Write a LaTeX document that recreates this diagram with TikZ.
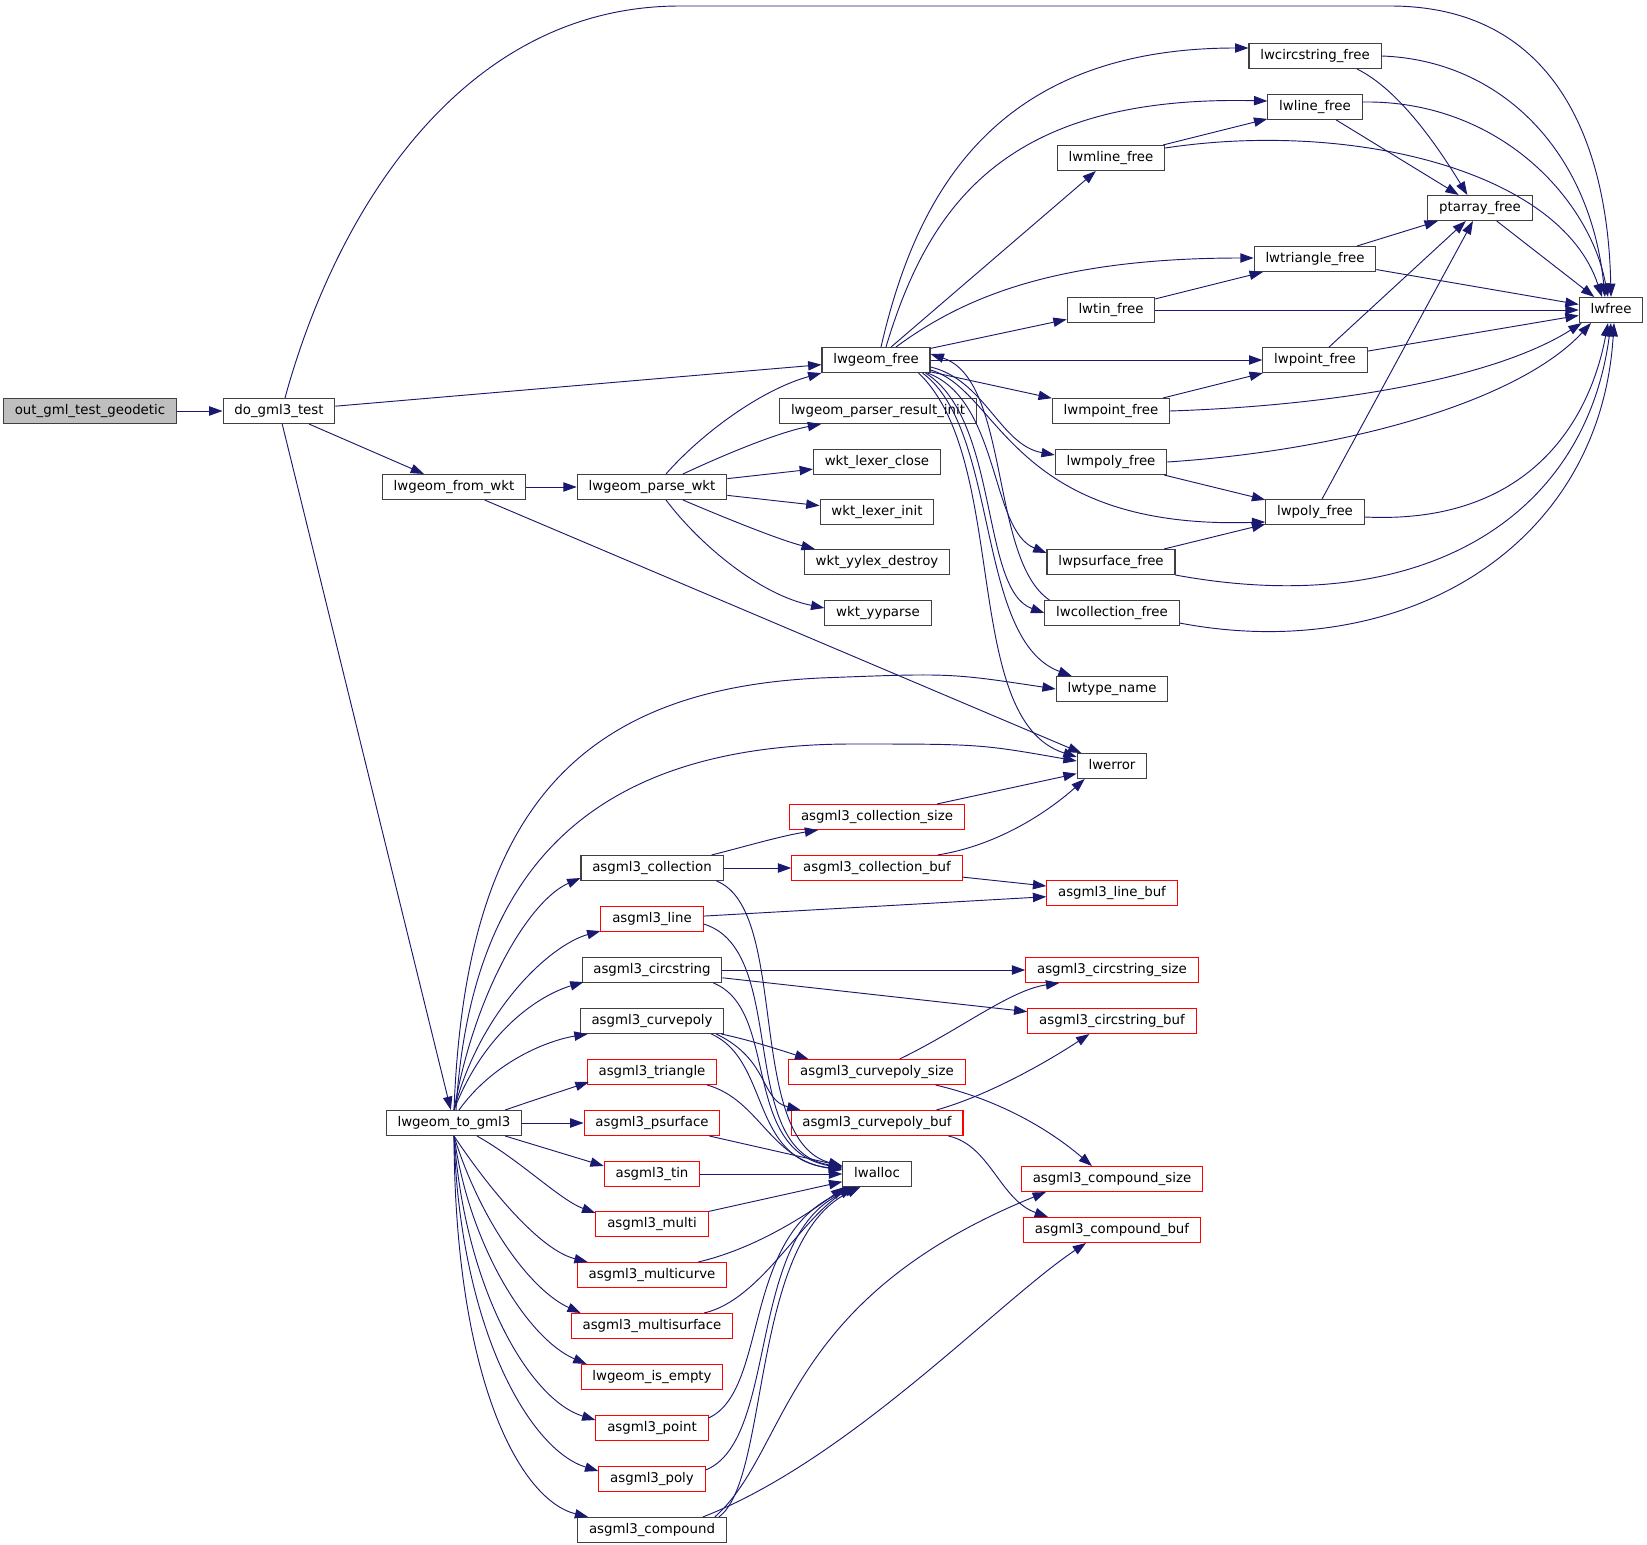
\documentclass[tikz,border=0pt]{standalone}
\usepackage{fontspec}
\setmainfont{DejaVu Sans}
\usetikzlibrary{arrows.meta,calc}
\definecolor{edgeblue}{HTML}{191970}
\definecolor{boxgray}{HTML}{BFBFBF}
\definecolor{boxline}{HTML}{404040}
\tikzset{
  fnode/.style = {shape=rectangle, draw=boxline, line width=0.8pt,
                  fill=white, inner xsep=8.5pt, inner ysep=0pt,
                  minimum height=18.75pt, text height=7.4pt, text depth=2.2pt,
                  font=\fontsize{10}{12}\selectfont},
  root/.style  = {fnode, fill=boxgray},
  undoc/.style = {fnode, draw=red},
  call/.style  = {draw=edgeblue, line width=0.7pt,
                  -{Triangle[length=10pt,width=7pt]}}
}
\begin{document}
\begin{tikzpicture}
  [
    x = 0.75pt,
    y = -0.75pt
  ]
  \useasboundingbox (0,0) rectangle (1647,1545);

  % callers
  \node [root] (og) at (90,411) {out\_gml\_test\_geodetic};
  \node [fnode] (dt) at (279,411) {do\_gml3\_test};
  \node [fnode] (fw) at (454,487) {lwgeom\_from\_wkt};
  \node [fnode] (tg) at (454,1123) {lwgeom\_to\_gml3};
  \node [fnode] (pw) at (652,487) {lwgeom\_parse\_wkt};

  % parser and free column
  \node [fnode] (gf) at (876,360) {lwgeom\_free};
  \node [fnode] (pri) at (878,411) {lwgeom\_parser\_result\_init};
  \node [fnode] (lc) at (877,462) {wkt\_lexer\_close};
  \node [fnode] (li) at (877,512) {wkt\_lexer\_init};
  \node [fnode] (yd) at (877,562) {wkt\_yylex\_destroy};
  \node [fnode] (yp) at (878,613) {wkt\_yyparse};

  % gml3 writers
  \node [fnode] (ac) at (652,868) {asgml3\_collection};
  \node [undoc] (al) at (652,919) {asgml3\_line};
  \node [fnode] (acst) at (652,970) {asgml3\_circstring};
  \node [fnode] (acp) at (652,1021) {asgml3\_curvepoly};
  \node [undoc] (atr) at (652,1072) {asgml3\_triangle};
  \node [undoc] (aps) at (652,1123) {asgml3\_psurface};
  \node [undoc] (atin) at (652,1174) {asgml3\_tin};
  \node [undoc] (amu) at (652,1224) {asgml3\_multi};
  \node [undoc] (amc) at (652,1275) {asgml3\_multicurve};
  \node [undoc] (ams) at (652,1326) {asgml3\_multisurface};
  \node [undoc] (ie) at (652,1377) {lwgeom\_is\_empty};
  \node [undoc] (apt) at (652,1428) {asgml3\_point};
  \node [undoc] (apy) at (652,1479) {asgml3\_poly};
  \node [fnode] (acm) at (652,1530) {asgml3\_compound};

  \node [undoc] (acs) at (877,817) {asgml3\_collection\_size};
  \node [undoc] (acb) at (877,868) {asgml3\_collection\_buf};
  \node [undoc] (cvs) at (877,1072) {asgml3\_curvepoly\_size};
  \node [undoc] (cvb) at (877,1123) {asgml3\_curvepoly\_buf};
  \node [fnode] (la) at (877,1174) {lwalloc};

  % free helpers
  \node [fnode] (ml) at (1111,158) {lwmline\_free};
  \node [fnode] (ti) at (1111,310) {lwtin\_free};
  \node [fnode] (mp) at (1111,411) {lwmpoint\_free};
  \node [fnode] (mpy) at (1111,462) {lwmpoly\_free};
  \node [fnode] (ps) at (1111,562) {lwpsurface\_free};
  \node [fnode] (co) at (1112,613) {lwcollection\_free};
  \node [fnode] (tn) at (1112,689) {lwtype\_name};
  \node [fnode] (er) at (1112,766) {lwerror};
  \node [undoc] (lb) at (1112,893) {asgml3\_line\_buf};
  \node [undoc] (css) at (1112,970) {asgml3\_circstring\_size};
  \node [undoc] (csb) at (1112,1021) {asgml3\_circstring\_buf};
  \node [undoc] (cps) at (1112,1179) {asgml3\_compound\_size};
  \node [undoc] (cpb) at (1112,1230) {asgml3\_compound\_buf};

  \node [fnode] (cs) at (1315,56) {lwcircstring\_free};
  \node [fnode] (ln) at (1315,107) {lwline\_free};
  \node [fnode] (tr) at (1315,259) {lwtriangle\_free};
  \node [fnode] (pt) at (1315,360) {lwpoint\_free};
  \node [fnode] (py) at (1315,512) {lwpoly\_free};
  \node [fnode] (pa) at (1480,208) {ptarray\_free};
  \node [fnode] (fr) at (1611,310) {lwfree};

  % top level calls
  \draw [call] (og) -- (dt);
  \draw [call] ($(dt.north)+(6,0)$) .. controls (335,215) and (460,6) .. (680,6)
    -- (1390,6) .. controls (1560,6) and (1608,150) .. (fr.north);
  \draw [call] (dt) -- (gf);
  \draw [call] (dt) -- (fw);
  \draw [call] (dt) -- (tg);
  \draw [call] (fw) -- (pw);
  \draw [call] (fw) -- (er);

  % parser
  \draw [call] ($(pw.north)+(14,0)$) .. controls (700,435) and (760,390) .. (gf.south west);
  \draw [call] ($(pw.north)+(31,0)$) .. controls (730,452) and (780,432) .. ($(pri.south west)+(42,0)$);
  \draw [call] (pw) -- (lc);
  \draw [call] (pw) -- (li);
  \draw [call] ($(pw.south)+(31,0)$) .. controls (730,520) and (780,540) .. ($(yd.north west)+(11,0)$);
  \draw [call] ($(pw.south)+(14,0)$) .. controls (700,545) and (760,595) .. ($(yp.west)+(0,-5)$);

  % lwgeom_free
  \draw [call] ($(gf.north)+(5,0)$) .. controls (915,200) and (990,48) .. ($(cs.west)+(0,-8)$);
  \draw [call] ($(gf.north)+(10,0)$) .. controls (930,200) and (1010,95) .. ($(ln.west)+(0,-6)$);
  \draw [call] (gf) -- (ml);
  \draw [call] ($(gf.north)+(20,0)$) .. controls (960,300) and (1050,258) .. ($(tr.west)+(0,-1)$);
  \draw [call] (gf) -- (ti);
  \draw [call] (gf) -- (pt);
  \draw [call] (gf) -- (mp);
  \draw [call] ($(gf.east)+(0,7)$) .. controls (985,380) and (1000,445) .. ($(mpy.west)+(0,-7)$);
  \draw [call] ($(gf.east)+(0,10)$) .. controls (1000,390) and (1010,530) .. ($(py.west)+(0,10)$);
  \draw [call] ($(gf.south east)+(-3,0)$) .. controls (1000,400) and (990,530) .. ($(ps.west)+(0,-9)$);
  \draw [call] ($(gf.south east)+(-5,0)$) .. controls (1000,420) and (980,590) .. (co.west);
  \draw [call] ($(gf.south east)+(-8,0)$) .. controls (1000,430) and (975,640) .. ($(tn.north west)+(16,0)$);
  \draw [call] ($(gf.south east)+(-12,0)$) .. controls (1010,460) and (960,720) .. ($(er.north west)+(0,4)$);
  \draw [call] ($(co.north west)+(5,0)$) .. controls (990,560) and (1010,380) .. ($(gf.east)+(0,-6)$);

  % free helpers
  \draw [call] ($(cs.south)+(42,0)$) .. controls (1400,90) and (1440,150) .. ($(pa.north west)+(40,0)$);
  \draw [call] (cs.east) .. controls (1500,60) and (1590,150) .. ($(fr.north)+(-6,0)$);
  \draw [call] (ln) -- (pa);
  \draw [call] ($(ln.east)+(0,-5)$) .. controls (1500,100) and (1590,200) .. ($(fr.north)+(-3,0)$);
  \draw [call] (ml) -- (ln);
  \draw [call] ($(ml.east)+(0,-10)$) .. controls (1350,120) and (1560,170) .. ($(fr.north)+(-9,0)$);
  \draw [call] (tr) -- (pa);
  \draw [call] (tr) -- (fr);
  \draw [call] (ti) -- (tr);
  \draw [call] (ti) -- (fr);
  \draw [call] (pt) -- (pa);
  \draw [call] (pt) -- (fr);
  \draw [call] (mp) -- (pt);
  \draw [call] (mp.east) .. controls (1350,405) and (1500,375) .. ($(fr.south west)+(3,0)$);
  \draw [call] (mpy) -- (py);
  \draw [call] (mpy.east) .. controls (1350,450) and (1520,400) .. ($(fr.south)+(-20,0)$);
  \draw [call] (py) -- (pa);
  \draw [call] ($(py.east)+(0,5)$) .. controls (1530,525) and (1590,420) .. ($(fr.south)+(-3,0)$);
  \draw [call] (ps) -- (py);
  \draw [call] (ps.south east) .. controls (1420,620) and (1585,520) .. (fr.south);
  \draw [call] ($(co.south east)+(0,-3)$) .. controls (1400,665) and (1600,550) .. ($(fr.south)+(3,0)$);
  \draw [call] (pa) -- (fr);

  % lwgeom_to_gml3
  \draw [call] (tg.north) .. controls (465,820) and (570,690) .. (820,678)
    .. controls (950,673) .. (tn.west);
  \draw [call] ($(tg.north)+(2,0)$) .. controls (470,880) and (580,745) .. (850,744)
    .. controls (980,744) .. ($(er.west)+(0,-5)$);
  \draw [call] (tg.north) .. controls (475,990) and (530,900) .. ($(ac.south west)+(0,-3)$);
  \draw [call] (tg.north) .. controls (480,1010) and (550,945) .. ($(al.south west)+(0,-1)$);
  \draw [call] (tg.north) .. controls (485,1030) and (540,995) .. ($(acst.south west)+(2,-1)$);
  \draw [call] ($(tg.north)+(5,0)$) .. controls (495,1060) and (550,1040) .. ($(acp.south west)+(8,0)$);
  \draw [call] ($(tg.north east)+(-17,0)$) .. controls (540,1098) and (565,1090) .. ($(atr.south west)+(2,-3)$);
  \draw [call] (tg) -- (aps);
  \draw [call] ($(tg.south east)+(-17,0)$) -- ($(atin.north west)+(0,5)$);
  \draw [call] ($(tg.south)+(23,0)$) .. controls (520,1160) and (560,1200) .. ($(amu.north west)+(0,2)$);
  \draw [call] (tg.south) .. controls (490,1190) and (540,1250) .. ($(amc.north west)+(11,0)$);
  \draw [call] (tg.south) .. controls (480,1220) and (530,1290) .. ($(ams.north west)+(10,0)$);
  \draw [call] (tg.south) .. controls (470,1250) and (530,1340) .. ($(ie.north west)+(6,0)$);
  \draw [call] (tg.south) .. controls (465,1290) and (530,1400) .. ($(apt.west)+(0,-8)$);
  \draw [call] (tg.south) .. controls (460,1330) and (530,1450) .. ($(apy.west)+(0,-8)$);
  \draw [call] (tg.south) .. controls (455,1380) and (520,1500) .. ($(acm.north west)+(11,0)$);

  % gml3 writers
  \draw [call] ($(ac.north east)+(-12,0)$) .. controls (740,848) and (780,836) .. ($(acs.south west)+(29,0)$);
  \draw [call] (ac) -- (acb);
  \draw [call] (acs) -- (er);
  \draw [call] ($(acb.north east)+(-25,0)$) .. controls (1000,845) and (1050,810) .. ($(er.south west)+(8,0)$);
  \draw [call] (acb) -- (lb);
  \draw [call] (al) -- (lb);
  \draw [call] (acst) -- (css);
  \draw [call] (acst) -- (csb);
  \draw [call] ($(acp.south east)+(-3,0)$) .. controls (750,1040) and (780,1050) .. ($(cvs.north west)+(20,0)$);
  \draw [call] ($(acp.south east)+(-8,0)$) .. controls (770,1060) and (760,1100) .. ($(cvb.north west)+(10,0)$);
  \draw [call] ($(cvs.north east)+(-66,0)$) .. controls (960,1030) and (1010,990) .. ($(css.south west)+(34,0)$);
  \draw [call] ($(cvs.south east)+(-30,0)$) .. controls (1000,1100) and (1050,1130) .. ($(cps.north west)+(71,0)$);
  \draw [call] ($(cvb.north east)+(-27,0)$) .. controls (990,1095) and (1050,1060) .. ($(csb.south west)+(62,0)$);
  \draw [call] ($(cvb.south east)+(-15,0)$) .. controls (990,1145) and (1000,1200) .. ($(cpb.north west)+(25,0)$);

  % into lwalloc
  \draw [call] ($(ac.south east)+(-7,0)$) .. controls (790,910) and (745,1140) .. ($(la.west)+(0,-8)$);
  \draw [call] ($(al.east)+(0,5)$) .. controls (790,950) and (735,1150) .. ($(la.west)+(0,-7)$);
  \draw [call] ($(acst.south east)+(-9,0)$) .. controls (780,1010) and (740,1150) .. ($(la.west)+(0,-6)$);
  \draw [call] ($(acp.south east)+(-13,0)$) .. controls (770,1060) and (750,1160) .. ($(la.west)+(0,-5)$);
  \draw [call] ($(atr.south east)+(-10,0)$) .. controls (760,1100) and (770,1160) .. ($(la.west)+(0,-4)$);
  \draw [call] (aps) -- (la);
  \draw [call] (atin) -- (la);
  \draw [call] (amu) -- (la);
  \draw [call] ($(amc.north east)+(-29,0)$) .. controls (750,1250) and (800,1220) .. ($(la.south west)+(2,0)$);
  \draw [call] ($(ams.north east)+(-29,0)$) .. controls (760,1300) and (800,1220) .. ($(la.south west)+(10,0)$);
  \draw [call] ($(apt.north east)+(0,3)$) .. controls (770,1390) and (740,1230) .. ($(la.south west)+(14,0)$);
  \draw [call] ($(apy.north east)+(0,4)$) .. controls (780,1440) and (745,1230) .. ($(la.south west)+(16,0)$);
  \draw [call] ($(acm.north east)+(-8,0)$) .. controls (770,1480) and (750,1240) .. ($(la.south west)+(18,0)$);
  \draw [call] ($(acm.north east)+(-12,0)$) .. controls (790,1450) and (780,1300) .. ($(cps.south west)+(25,0)$);
  \draw [call] ($(acm.north east)+(-24,0)$) .. controls (850,1460) and (1000,1300) .. ($(cpb.south west)+(63,0)$);
\end{tikzpicture}
\end{document}
